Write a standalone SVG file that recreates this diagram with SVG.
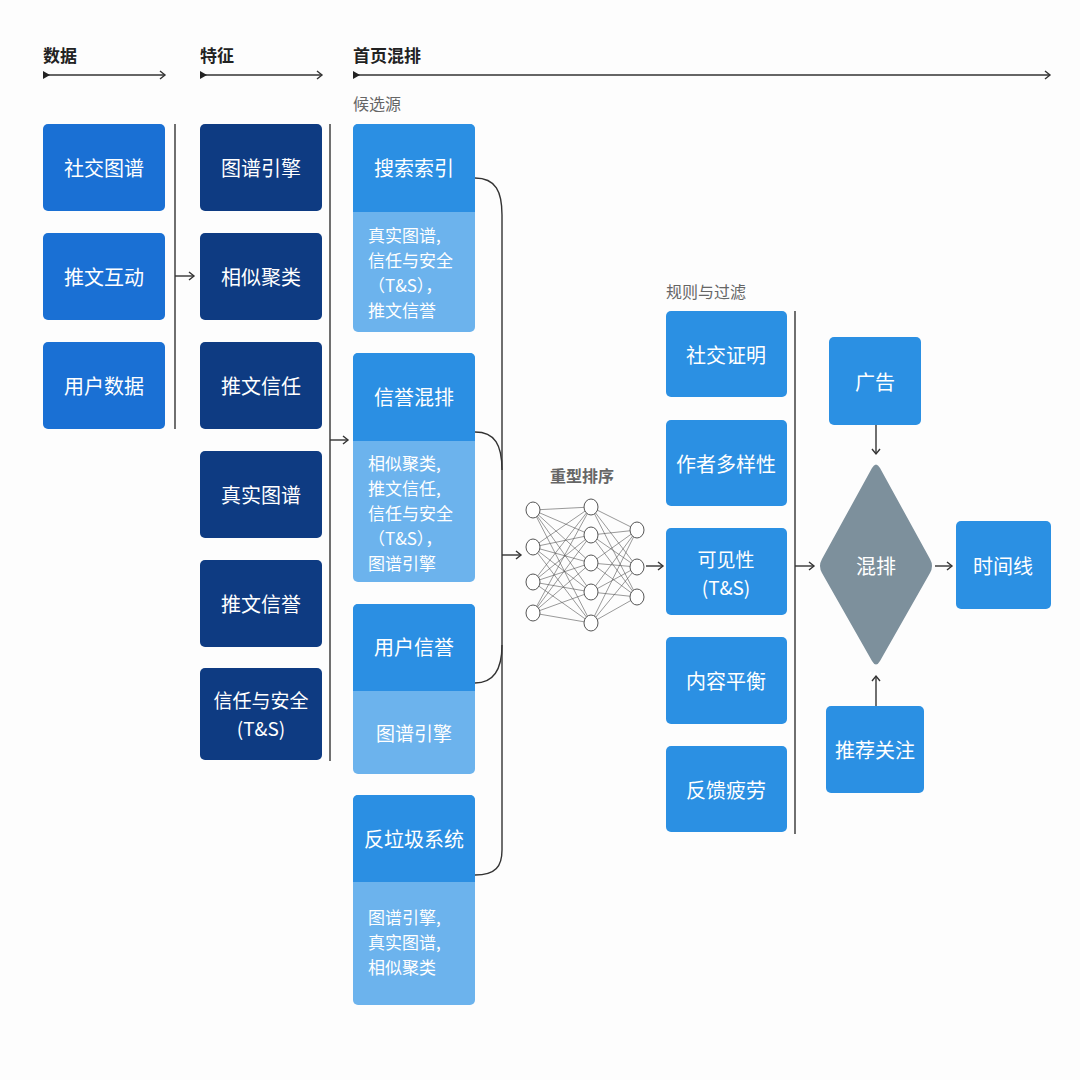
<svg xmlns="http://www.w3.org/2000/svg" width="1080" height="1080" viewBox="0 0 1080 1080">
<defs>
<marker id="arr" markerWidth="10" markerHeight="10" refX="8" refY="5" orient="auto" markerUnits="userSpaceOnUse">
<path d="M3,1 L8,5 L3,9" fill="none" stroke="#333" stroke-width="1.4"/>
</marker>
<marker id="start" markerWidth="10" markerHeight="10" refX="1" refY="5" orient="auto" markerUnits="userSpaceOnUse">
<path d="M0,1 L7,5 L0,9 Z" fill="#222"/>
</marker>
</defs>
<style>
text{font-family:"Noto Sans CJK SC","Noto Sans",sans-serif;}
.hdr{font-size:17px;font-weight:bold;fill:#222;}
.sub{font-size:16px;fill:#666;}
.lbl{font-size:20px;fill:#fff;text-anchor:middle;dominant-baseline:central;}
.two{font-size:19px;}
.sm{font-size:17px;fill:#fff;}
.data{fill:#1a70d4;}
.feat{fill:#0e3b82;}
.ctop{fill:#2b8fe3;}
.cbot{fill:#6cb3ed;}
.rule{fill:#2b90e3;}
.conn{fill:none;stroke:#333;stroke-width:1.4;}
.nn line{stroke:#555;stroke-width:0.6;}
.nn ellipse{fill:#fff;stroke:#555;stroke-width:1;}
</style>
<rect width="1080" height="1080" fill="#fdfdfd"/>

<g id="headers">
<text class="hdr" x="43" y="62">数据</text>
<text class="hdr" x="200" y="62">特征</text>
<text class="hdr" x="353" y="62">首页混排</text>
<line class="conn" x1="44" y1="75" x2="165" y2="75" marker-start="url(#start)" marker-end="url(#arr)"/>
<line class="conn" x1="201" y1="75" x2="322" y2="75" marker-start="url(#start)" marker-end="url(#arr)"/>
<line class="conn" x1="354" y1="75" x2="1050" y2="75" marker-start="url(#start)" marker-end="url(#arr)"/>
<text class="sub" x="353" y="110">候选源</text>
<text class="sub" x="666" y="298">规则与过滤</text>
<text class="sub" x="550" y="482" style="font-weight:bold">重型排序</text>
</g>

<g id="data">
<g id="n-social"><rect class="data" x="43" y="124" width="122" height="87" rx="5"/><text class="lbl" x="104" y="167">社交图谱</text></g>
<g id="n-tweet"><rect class="data" x="43" y="233" width="122" height="87" rx="5"/><text class="lbl" x="104" y="276">推文互动</text></g>
<g id="n-user"><rect class="data" x="43" y="342" width="122" height="87" rx="5"/><text class="lbl" x="104" y="385">用户数据</text></g>
</g>

<g id="features">
<g id="f1"><rect class="feat" x="200" y="124" width="122" height="87" rx="5"/><text class="lbl" x="261" y="167">图谱引擎</text></g>
<g id="f2"><rect class="feat" x="200" y="233" width="122" height="87" rx="5"/><text class="lbl" x="261" y="276">相似聚类</text></g>
<g id="f3"><rect class="feat" x="200" y="342" width="122" height="87" rx="5"/><text class="lbl" x="261" y="385">推文信任</text></g>
<g id="f4"><rect class="feat" x="200" y="451" width="122" height="87" rx="5"/><text class="lbl" x="261" y="494">真实图谱</text></g>
<g id="f5"><rect class="feat" x="200" y="560" width="122" height="87" rx="5"/><text class="lbl" x="261" y="603">推文信誉</text></g>
<g id="f6"><rect class="feat" x="200" y="668" width="122" height="92" rx="5"/><text class="lbl two" x="261" y="699">信任与安全</text><text class="lbl two" x="261" y="727">(T&amp;S)</text></g>
</g>

<g id="candidates">
<g id="c1">
<rect class="cbot" x="353" y="124" width="122" height="208" rx="5"/>
<rect class="ctop" x="353" y="124" width="122" height="88" rx="5"/>
<rect class="ctop" x="353" y="200" width="122" height="12"/>
<text class="lbl" x="414" y="167">搜索索引</text>
<text class="sm" x="368" y="242">真实图谱,</text>
<text class="sm" x="368" y="267">信任与安全</text>
<text class="sm" x="368" y="292">（T&amp;S），</text>
<text class="sm" x="368" y="317">推文信誉</text>
</g>
<g id="c2">
<rect class="cbot" x="353" y="353" width="122" height="229" rx="5"/>
<rect class="ctop" x="353" y="353" width="122" height="88" rx="5"/>
<rect class="ctop" x="353" y="428" width="122" height="13"/>
<text class="lbl" x="414" y="396">信誉混排</text>
<text class="sm" x="368" y="470">相似聚类,</text>
<text class="sm" x="368" y="495">推文信任,</text>
<text class="sm" x="368" y="520">信任与安全</text>
<text class="sm" x="368" y="545">（T&amp;S），</text>
<text class="sm" x="368" y="570">图谱引擎</text>
</g>
<g id="c3">
<rect class="cbot" x="353" y="604" width="122" height="170" rx="5"/>
<rect class="ctop" x="353" y="604" width="122" height="87" rx="5"/>
<rect class="ctop" x="353" y="680" width="122" height="11"/>
<text class="lbl" x="414" y="646">用户信誉</text>
<text class="lbl" x="414" y="732" style="font-size:19px">图谱引擎</text>
</g>
<g id="c4">
<rect class="cbot" x="353" y="795" width="122" height="210" rx="5"/>
<rect class="ctop" x="353" y="795" width="122" height="87" rx="5"/>
<rect class="ctop" x="353" y="870" width="122" height="12"/>
<text class="lbl" x="414" y="838">反垃圾系统</text>
<text class="sm" x="368" y="924">图谱引擎,</text>
<text class="sm" x="368" y="949">真实图谱,</text>
<text class="sm" x="368" y="974">相似聚类</text>
</g>
</g>

<g id="ranker" class="nn">
<line x1="533" y1="510" x2="591" y2="507"/><line x1="533" y1="510" x2="591" y2="535"/><line x1="533" y1="510" x2="591" y2="563"/><line x1="533" y1="510" x2="591" y2="592"/><line x1="533" y1="510" x2="591" y2="623"/>
<line x1="533" y1="547" x2="591" y2="507"/><line x1="533" y1="547" x2="591" y2="535"/><line x1="533" y1="547" x2="591" y2="563"/><line x1="533" y1="547" x2="591" y2="592"/><line x1="533" y1="547" x2="591" y2="623"/>
<line x1="533" y1="582" x2="591" y2="507"/><line x1="533" y1="582" x2="591" y2="535"/><line x1="533" y1="582" x2="591" y2="563"/><line x1="533" y1="582" x2="591" y2="592"/><line x1="533" y1="582" x2="591" y2="623"/>
<line x1="533" y1="613" x2="591" y2="507"/><line x1="533" y1="613" x2="591" y2="535"/><line x1="533" y1="613" x2="591" y2="563"/><line x1="533" y1="613" x2="591" y2="592"/><line x1="533" y1="613" x2="591" y2="623"/>
<line x1="591" y1="507" x2="637" y2="530"/><line x1="591" y1="507" x2="637" y2="567"/><line x1="591" y1="507" x2="637" y2="597"/>
<line x1="591" y1="535" x2="637" y2="530"/><line x1="591" y1="535" x2="637" y2="567"/><line x1="591" y1="535" x2="637" y2="597"/>
<line x1="591" y1="563" x2="637" y2="530"/><line x1="591" y1="563" x2="637" y2="567"/><line x1="591" y1="563" x2="637" y2="597"/>
<line x1="591" y1="592" x2="637" y2="530"/><line x1="591" y1="592" x2="637" y2="567"/><line x1="591" y1="592" x2="637" y2="597"/>
<line x1="591" y1="623" x2="637" y2="530"/><line x1="591" y1="623" x2="637" y2="567"/><line x1="591" y1="623" x2="637" y2="597"/>
<ellipse cx="533" cy="510" rx="7" ry="8"/><ellipse cx="533" cy="547" rx="7" ry="8"/><ellipse cx="533" cy="582" rx="7" ry="8"/><ellipse cx="533" cy="613" rx="7" ry="8"/>
<ellipse cx="591" cy="507" rx="7" ry="8"/><ellipse cx="591" cy="535" rx="7" ry="8"/><ellipse cx="591" cy="563" rx="7" ry="8"/><ellipse cx="591" cy="592" rx="7" ry="8"/><ellipse cx="591" cy="623" rx="7" ry="8"/>
<ellipse cx="637" cy="530" rx="7" ry="8"/><ellipse cx="637" cy="567" rx="7" ry="8"/><ellipse cx="637" cy="597" rx="7" ry="8"/>
</g>

<g id="rules">
<g id="r1"><rect class="rule" x="666" y="311" width="121" height="86" rx="5"/><text class="lbl" x="726" y="354">社交证明</text></g>
<g id="r2"><rect class="rule" x="666" y="420" width="121" height="86" rx="5"/><text class="lbl" x="726" y="463">作者多样性</text></g>
<g id="r3"><rect class="rule" x="666" y="528" width="121" height="87" rx="5"/><text class="lbl two" x="726" y="558">可见性</text><text class="lbl two" x="726" y="586">(T&amp;S)</text></g>
<g id="r4"><rect class="rule" x="666" y="637" width="121" height="87" rx="5"/><text class="lbl" x="726" y="680">内容平衡</text></g>
<g id="r5"><rect class="rule" x="666" y="746" width="121" height="86" rx="5"/><text class="lbl" x="726" y="789">反馈疲劳</text></g>
</g>

<g id="mixer">
<g id="ads"><rect class="rule" x="829" y="337" width="92" height="88" rx="5"/><text class="lbl" x="875" y="381">广告</text></g>
<g id="mix"><path d="M872,468 Q876,461 880,468 L930,559 Q934,566 930,573 L880,661 Q876,668 872,661 L822,573 Q818,566 822,559 Z" fill="#7d909c"/><text class="lbl" x="876" y="565">混排</text></g>
<g id="follow"><rect class="rule" x="826" y="706" width="98" height="87" rx="5"/><text class="lbl" x="875" y="749">推荐关注</text></g>
<g id="timeline"><rect class="rule" x="956" y="521" width="95" height="88" rx="5"/><text class="lbl" x="1003" y="565">时间线</text></g>
</g>

<g id="connectors">
<line class="conn" x1="175" y1="124" x2="175" y2="429"/>
<line class="conn" x1="175" y1="276" x2="194" y2="276" marker-end="url(#arr)"/>
<line class="conn" x1="330" y1="124" x2="330" y2="761"/>
<line class="conn" x1="330" y1="440" x2="348" y2="440" marker-end="url(#arr)"/>
<path class="conn" d="M475,178 C496,178 502,192 502,215 L502,850 C502,866 496,875 475,875"/>
<path class="conn" d="M475,432 C495,432 502,445 502,470"/>
<path class="conn" d="M475,683 C495,683 502,668 502,645"/>
<line class="conn" x1="502" y1="555" x2="521" y2="555" marker-end="url(#arr)"/>
<line class="conn" x1="646" y1="566" x2="663" y2="566" marker-end="url(#arr)"/>
<line class="conn" x1="795" y1="311" x2="795" y2="834"/>
<line class="conn" x1="795" y1="566" x2="814" y2="566" marker-end="url(#arr)"/>
<line class="conn" x1="876" y1="425" x2="876" y2="454" marker-end="url(#arr)"/>
<line class="conn" x1="876" y1="706" x2="876" y2="676" marker-end="url(#arr)"/>
<line class="conn" x1="935" y1="566" x2="952" y2="566" marker-end="url(#arr)"/>
</g>
</svg>
